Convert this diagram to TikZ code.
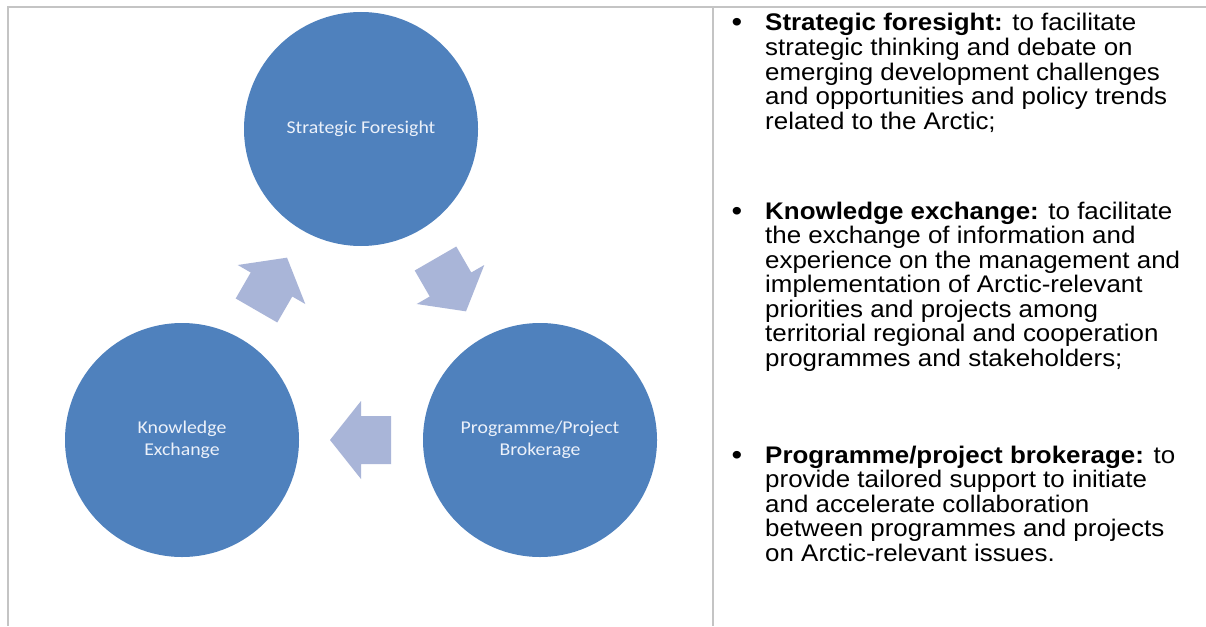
\documentclass[tikz,border=0pt]{standalone}
\usepackage{fontspec}
\setmainfont{Liberation Sans}
\newfontfamily\bodyfont[FakeStretch=1.08]{Liberation Sans}
\newfontfamily\circfont[FakeStretch=1.1]{Carlito}
\usetikzlibrary{calc}
\definecolor{cblue}{RGB}{79,129,189}
\definecolor{arrowc}{RGB}{169,181,216}
\definecolor{rulec}{RGB}{196,196,196}
\definecolor{ctext}{RGB}{236,241,250}
\tikzset{
  rule/.style={draw=rulec, line width=1.8pt},
  cyc/.style={circle, fill=cblue, minimum size=234pt, inner sep=0pt, text=ctext, align=center,
    font=\circfont\fontsize{18}{22}\selectfont},
  bul/.style={anchor=base, inner sep=0pt, font=\bodyfont\fontsize{28}{24.5}\selectfont},
  itemtext/.style={anchor=base west, inner sep=0pt, font=\bodyfont\fontsize{24}{24.5}\selectfont},
  cyclearrow/.pic={\fill[arrowc] (31,0) -- (0,39) -- (0,24) -- (-30,24) -- (-30,-24) -- (0,-24) -- (0,-39) -- cycle;}
}
\begin{document}
\begin{tikzpicture}[x=1pt,y=-1pt]
\useasboundingbox (0,0) rectangle (1206,626);
\fill[white] (0,0) rectangle (1206,626);
% table rules
\coordinate (tl) at (8,7);
\coordinate (tr) at (1206,7);
\coordinate (bl) at (8,626);
\coordinate (dt) at (713,7);
\coordinate (db) at (713,626);
\draw[rule] (tr) -- (tl) -- (bl);
\draw[rule] (dt) -- (db);
% cycle
\node[cyc] (sf) at (361,129) {Strategic Foresight};
\node[cyc] (ke) at (182,440) {Knowledge\\Exchange};
\node[cyc] (pb) at (540,440) {Programme/Project\\Brokerage};
\pic[rotate=60] at ($(ke)!0.5!(sf)$) {cyclearrow};
\pic[rotate=-60] at ($(sf)!0.5!(pb)$) {cyclearrow};
\pic[rotate=180] at ($(pb)!0.5!(ke)$) {cyclearrow};
% bullets
\node[bul] (b1) at (737,32) {\textbullet};
\node[itemtext] (t1) at (765,31) {\parbox[t]{440pt}{\textbf{Strategic foresight:} to facilitate\\
strategic thinking and debate on\\
emerging development challenges\\
and opportunities and policy trends\\
related to the Arctic;}};
\node[bul] (b2) at (737,220) {\textbullet};
\node[itemtext] (t2) at (765,219) {\parbox[t]{440pt}{\textbf{Knowledge exchange:} to facilitate\\
the exchange of information and\\
experience on the management and\\
implementation of Arctic-relevant\\
priorities and projects among\\
territorial regional and cooperation\\
programmes and stakeholders;}};
\node[bul] (b3) at (737,464) {\textbullet};
\node[itemtext] (t3) at (765,463) {\parbox[t]{440pt}{\textbf{Programme/project brokerage:} to\\
provide tailored support to initiate\\
and accelerate collaboration\\
between programmes and projects\\
on Arctic-relevant issues.}};
\end{tikzpicture}
\end{document}
